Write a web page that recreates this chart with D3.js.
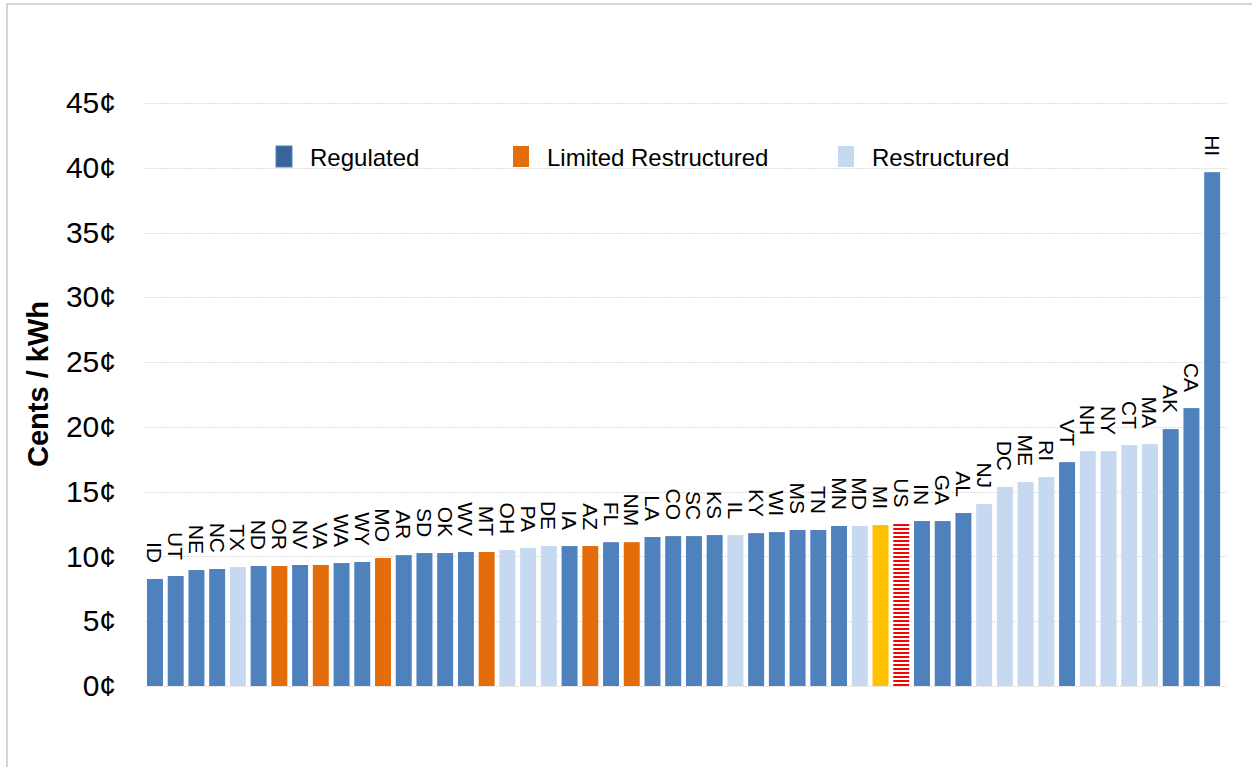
<!DOCTYPE html>
<html>
<head>
<meta charset="utf-8">
<script src="https://cdn.jsdelivr.net/npm/d3@7"></script>
<style>
  body { margin: 0; background: #fff; }
  text { font-family: "Liberation Sans", Arial, sans-serif; fill: #000; }
</style>
</head>
<body>
<svg id="chart" width="1252" height="767"></svg>
<script>
// state codes, sorted by price
var states = ["ID","UT","NE","NC","TX","ND","OR","NV","VA","WA","WY","MO","AR","SD","OK","WV","MT",
  "OH","PA","DE","IA","AZ","FL","NM","LA","CO","SC","KS","IL","KY","WI","MS","TN","MN","MD","MI",
  "US","IN","GA","AL","NJ","DC","ME","RI","VT","NH","NY","CT","MA","AK","CA","HI"];
// average price, cents per kWh
var prices = [8.26,8.49,8.95,9.03,9.18,9.26,9.26,9.34,9.34,9.49,9.57,9.88,10.1,10.26,10.26,10.34,10.34,
  10.49,10.65,10.8,10.8,10.8,11.1,11.1,11.5,11.57,11.57,11.65,11.65,11.8,11.88,12.04,12.04,12.35,12.35,12.42,
  12.55,12.73,12.73,13.35,14.04,15.36,15.74,16.13,17.28,18.13,18.13,18.6,18.67,19.83,21.45,39.66];
// market type: reg = regulated, lim = limited restructured, res = restructured
var types = ["reg","reg","reg","reg","res","reg","lim","reg","lim","reg","reg","lim","reg","reg","reg","reg","lim",
  "res","res","res","reg","lim","reg","lim","reg","reg","reg","reg","res","reg","reg","reg","reg","reg","res","mi",
  "us","reg","reg","reg","res","res","res","res","reg","res","res","res","res","reg","reg","reg"];
var yTicks = [0,5,10,15,20,25,30,35,40,45];
var legendItems = [
  {key: "reg", label: "Regulated"},
  {key: "lim", label: "Limited Restructured"},
  {key: "res", label: "Restructured"}
];

var colors = {reg: "#4f81bd", lim: "#e46c0a", res: "#c6d9f1", mi: "#ffc000", us: "url(#usStripes)"};
var legendColors = {reg: "#3a6496", lim: "#e46c0a", res: "#c6d9f1"};

var svg = d3.select("#chart");

// red/white striped fill for the US average
var pat = svg.append("defs").append("pattern")
  .attr("id", "usStripes")
  .attr("patternUnits", "userSpaceOnUse")
  .attr("width", 8).attr("height", 4);
pat.append("rect").attr("width", 8).attr("height", 4).attr("fill", "#fff");
pat.append("rect").attr("width", 8).attr("height", 2).attr("fill", "#ff0000");

// outer frame (top and left edges only visible)
svg.append("path")
  .attr("d", "M7,770 L7,4 L1256,4")
  .attr("fill", "none")
  .attr("stroke", "#c8c8c8")
  .attr("stroke-width", 1.5);

var y = d3.scaleLinear().domain([0, 45]).range([686, 103]);
var x = d3.scaleBand().domain(states).range([142.85, 1224.3])
  .paddingInner(0.23).paddingOuter(0.2);

// gridlines
svg.append("g").selectAll("line").data(yTicks).join("line")
  .attr("x1", 145).attr("x2", 1228)
  .attr("y1", function(d) { return Math.round(y(d)) + 0.5; })
  .attr("y2", function(d) { return Math.round(y(d)) + 0.5; })
  .attr("stroke", "#dedede")
  .attr("stroke-dasharray", "2,1");

// y axis labels
var yAxis = svg.append("g")
  .attr("transform", "translate(116,0)")
  .call(d3.axisLeft(y).tickValues(yTicks).tickSize(0).tickPadding(0)
    .tickFormat(function(d) { return d + "\u00a2"; }));
yAxis.select(".domain").remove();
yAxis.selectAll("text")
  .style("font-family", "'Liberation Sans', Arial, sans-serif")
  .style("font-size", "30px")
  .attr("fill", "#000");

svg.append("text")
  .attr("transform", "translate(38,384) rotate(-90)")
  .attr("text-anchor", "middle")
  .attr("dominant-baseline", "central")
  .style("font-size", "29px")
  .style("font-weight", "bold")
  .text("Cents / kWh");

// bars
var data = states.map(function(s, i) { return {state: s, price: prices[i], type: types[i]}; });

svg.append("g").selectAll("rect").data(data).join("rect")
  .attr("x", function(d) { return x(d.state); })
  .attr("width", x.bandwidth())
  .attr("y", function(d) { return y(d.price); })
  .attr("height", function(d) { return y(0) - y(d.price); })
  .attr("fill", function(d) { return colors[d.type]; });

// rotated state labels above the bars
svg.append("g").selectAll("text").data(data).join("text")
  .attr("transform", function(d) {
    return "translate(" + (x(d.state) + x.bandwidth() / 2) + "," + (y(d.price) - 16) + ") rotate(90)";
  })
  .attr("text-anchor", "end")
  .attr("dominant-baseline", "central")
  .style("font-size", "21px")
  .text(function(d) { return d.state; });

// legend
var legendX = [276, 513, 838];
var lg = svg.append("g").selectAll("g").data(legendItems).join("g")
  .attr("transform", function(d, i) { return "translate(" + legendX[i] + ",146)"; });
lg.append("rect")
  .attr("width", 16).attr("height", 21)
  .attr("fill", function(d) { return legendColors[d.key]; })
  .attr("stroke", function(d) { return d.key == "reg" ? "#4f81bd" : "none"; });
lg.append("text")
  .attr("x", 34).attr("y", 11)
  .attr("dominant-baseline", "central")
  .style("font-size", "24px")
  .text(function(d) { return d.label; });
</script>
</body>
</html>
